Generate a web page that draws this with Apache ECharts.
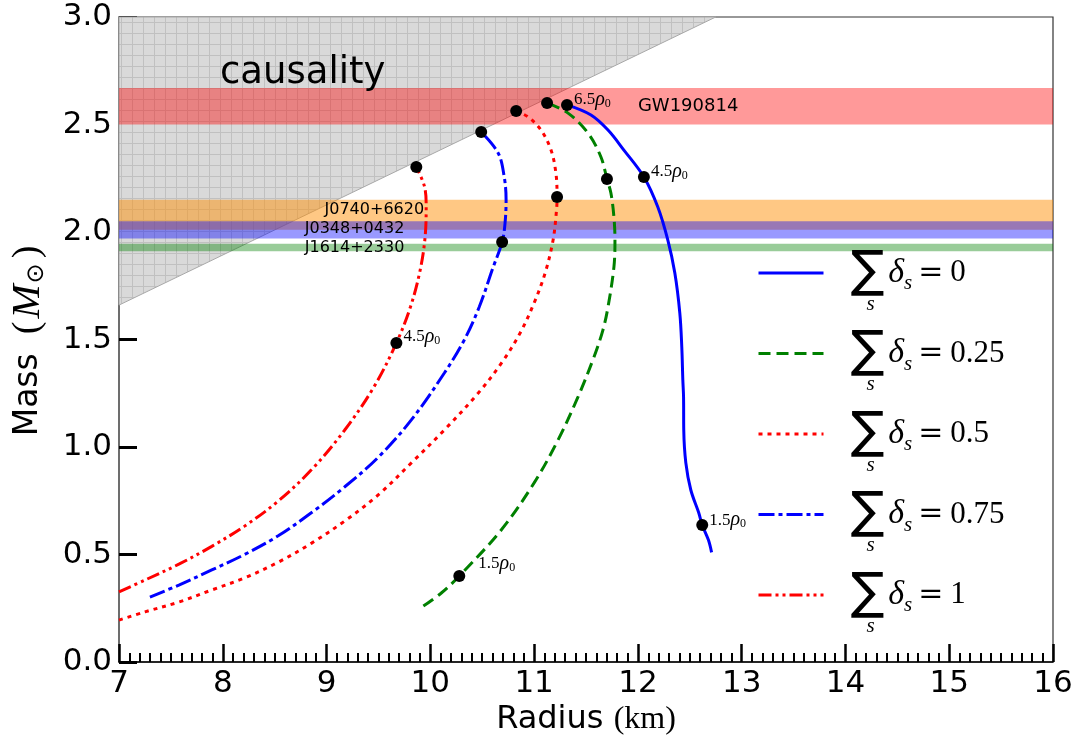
<!DOCTYPE html>
<html>
<head>
<meta charset="utf-8">
<script src="https://cdn.jsdelivr.net/npm/echarts@6/dist/echarts.min.js"></script>
<style>
  html, body { margin: 0; padding: 0; background: #fff; }
  #chart { width: 1081px; height: 749px; }
</style>
</head>
<body>
<div id="chart"></div>
<script>
// Mass–radius sequences for several strangeness fractions (sum of delta_s)
const sumDeltaValues = ['0', '0.25', '0.5', '0.75', '1'];

// [radius km, mass Msun]
const curveSum0 = [
  [12.71, 0.51], [12.68, 0.567], [12.62, 0.637], [12.587, 0.693], [12.51, 0.80],
  [12.462, 0.926], [12.442, 1.079], [12.44, 1.233], [12.433, 1.312], [12.423, 1.465],
  [12.404, 1.623], [12.356, 1.809], [12.288, 1.963], [12.192, 2.116], [12.058, 2.256],
  [11.865, 2.381], [11.712, 2.474], [11.548, 2.544], [11.317, 2.591]
];
const curveSum025 = [
  [9.933, 0.26], [10.106, 0.321], [10.279, 0.40], [10.683, 0.614], [11.0, 0.833],
  [11.231, 1.033], [11.423, 1.233], [11.577, 1.419], [11.663, 1.544], [11.712, 1.651],
  [11.769, 1.837], [11.779, 1.963], [11.769, 2.07], [11.74, 2.181], [11.702, 2.247],
  [11.644, 2.349], [11.519, 2.46], [11.327, 2.553], [11.125, 2.6]
];
const curveSum05 = [
  [7.0, 0.195], [7.25, 0.233], [7.577, 0.279], [7.894, 0.335], [8.21, 0.391],
  [8.538, 0.465], [8.856, 0.553], [9.173, 0.655], [9.5, 0.778], [9.817, 0.926],
  [10.135, 1.079], [10.462, 1.251], [10.692, 1.395], [10.865, 1.530], [11.0, 1.670],
  [11.106, 1.809], [11.183, 1.963], [11.216, 2.102], [11.221, 2.163], [11.21, 2.274],
  [11.163, 2.381], [11.067, 2.474], [10.942, 2.535], [10.827, 2.563]
];
const curveSum075 = [
  [7.298, 0.302], [7.577, 0.358], [7.894, 0.428], [8.21, 0.500], [8.538, 0.588],
  [8.856, 0.695], [9.173, 0.814], [9.5, 0.953], [9.817, 1.126], [10.135, 1.344],
  [10.327, 1.498], [10.471, 1.651], [10.606, 1.837], [10.692, 1.953],
  [10.72, 2.042], [10.73, 2.149], [10.712, 2.256], [10.654, 2.367], [10.49, 2.465]
];
const curveSum1 = [
  [7.0, 0.326], [7.25, 0.381], [7.577, 0.455], [7.894, 0.538], [8.21, 0.632],
  [8.538, 0.75], [8.856, 0.895], [9.175, 1.079], [9.456, 1.279], [9.673, 1.484],
  [9.808, 1.651], [9.896, 1.809], [9.947, 1.963], [9.96, 2.116], [9.945, 2.209],
  [9.865, 2.302]
];

// Marked central densities on each sequence (label = multiple of rho_0, '' = unlabelled)
const densityDots0 = [[12.62, 0.637], [12.058, 2.256], [11.317, 2.591]];
const densityLabels0 = ['1.5', '4.5', '6.5'];
const densityDots025 = [[10.279, 0.40], [11.702, 2.247], [11.125, 2.6]];
const densityLabels025 = ['1.5', '', ''];
const densityDots05 = [[11.221, 2.163], [10.827, 2.563]];
const densityLabels05 = ['', ''];
const densityDots075 = [[10.692, 1.953], [10.49, 2.465]];
const densityLabels075 = ['', ''];
const densityDots1 = [[9.673, 1.484], [9.865, 2.302]];
const densityLabels1 = ['4.5', ''];

// Observational mass constraints
const bandNames = ['GW190814', 'J0740+6620', 'J0348+0432', 'J1614+2330'];
const bandLow = [2.50, 2.01, 1.97, 1.911];
const bandHigh = [2.67, 2.15, 2.05, 1.945];

// Region excluded by causality
const causalityRegion = [[7, 1.66], [12.75, 3.0], [7, 3.0]];

const radiusRange = [7, 16];
const massRange = [0, 3];

// ---------------------------------------------------------------------------
const chart = echarts.init(document.getElementById('chart'));

const hatch = document.createElement('canvas');
hatch.width = 11; hatch.height = 11;
(function () {
  const c = hatch.getContext('2d');
  c.fillStyle = '#d9d9d9';
  c.fillRect(0, 0, 11, 11);
  c.fillStyle = '#c0c0c0';
  c.fillRect(0, 0, 11, 1);
  c.fillRect(0, 0, 1, 11);
})();

const serif = "'Liberation Serif','DejaVu Serif',serif";
const dvSerif = "'DejaVu Serif',serif";
const sans = "'DejaVu Sans',sans-serif";

const curves = [curveSum0, curveSum025, curveSum05, curveSum075, curveSum1];
const dots = [densityDots0, densityDots025, densityDots05, densityDots075, densityDots1];
const dotLabels = [densityLabels0, densityLabels025, densityLabels05, densityLabels075, densityLabels1];
const colors = ['#0000ff', '#008000', '#ff0000', '#0000ff', '#ff0000'];
const dashes = ['solid', [12, 6], [4, 5], [16, 4, 4, 4], [13, 4, 3, 4, 3, 4]];
const names = sumDeltaValues.map(v => 'sum_delta_s=' + v);
const dotLabelOffsets = [[0, -5], [12, -12], [0, -5], [0, -5], [0, -6]];

const rhoRich = {
  n: { fontFamily: serif, fontSize: 17, color: '#000' },
  r: { fontFamily: serif, fontStyle: 'italic', fontSize: 20, color: '#000' },
  z: { fontFamily: serif, fontSize: 12, color: '#000', verticalAlign: 'bottom', lineHeight: 12 }
};

const bandFill = ['rgba(255,0,0,0.4)', 'rgba(255,145,10,0.5)', 'rgba(0,0,255,0.4)', 'rgba(0,128,0,0.4)'];
const bandText = [
  { r: 12.0, m: 2.585, align: 'left', size: 18 },
  { r: 9.94, m: 2.103, align: 'right', size: 16 },
  { r: 8.79, m: 2.014, align: 'left', size: 16 },
  { r: 8.79, m: 1.926, align: 'left', size: 16 }
];

const series = [];

series.push({
  type: 'custom', coordinateSystem: 'cartesian2d', z: 1, silent: true,
  data: [causalityRegion[0]],
  renderItem: (params, api) => ({
    type: 'polygon',
    shape: { points: causalityRegion.map(p => api.coord(p)) },
    style: { fill: { image: hatch, repeat: 'repeat' }, stroke: '#a8a8a8', lineWidth: 1 }
  })
});

series.push({
  type: 'custom', coordinateSystem: 'cartesian2d', z: 2, silent: true,
  data: bandLow.map((lo, i) => [radiusRange[0], lo, radiusRange[1], bandHigh[i]]),
  renderItem: (params, api) => {
    const i = params.dataIndex;
    const a = api.coord([api.value(0), api.value(3)]);
    const b = api.coord([api.value(2), api.value(1)]);
    const t = bandText[i];
    const tp = api.coord([t.r, t.m]);
    return {
      type: 'group',
      children: [
        { type: 'rect', shape: { x: a[0], y: a[1], width: b[0] - a[0], height: b[1] - a[1] },
          style: { fill: bandFill[i] } },
        { type: 'text', z2: 10,
          style: { text: bandNames[i], x: tp[0], y: tp[1], align: t.align, verticalAlign: 'middle',
                   fontFamily: sans, fontSize: t.size, fill: '#000' } }
      ]
    };
  }
});

curves.forEach((c, i) => {
  series.push({
    name: names[i], type: 'line', data: c, z: 3,
    showSymbol: false, symbol: 'none', smooth: 0.35,
    lineStyle: { color: colors[i], width: 3, type: dashes[i] },
    itemStyle: { color: colors[i] }
  });
});

dots.forEach((d, i) => {
  series.push({
    type: 'scatter', z: 4, symbolSize: 12, silent: true,
    itemStyle: { color: '#000', opacity: 1 },
    data: d.map((p, k) => ({
      value: p,
      label: dotLabels[i][k] ? {
        show: true, position: 'right', distance: 1, offset: dotLabelOffsets[i],
        formatter: '{n|' + dotLabels[i][k] + '}{r|ρ}{z|0}', rich: rhoRich
      } : { show: false }
    }))
  });
});

const legendRich = {
  sum: { fontFamily: sans, fontSize: 50, lineHeight: 44, color: '#000', padding: [0, 4, 0, 0] },
  d: { fontFamily: serif, fontStyle: 'italic', fontSize: 34, lineHeight: 44, color: '#000' },
  sb: { fontFamily: serif, fontStyle: 'italic', fontSize: 21, lineHeight: 20, color: '#000',
        verticalAlign: 'bottom', padding: [0, 0, 1, 0] },
  eq: { fontFamily: dvSerif, fontSize: 30, lineHeight: 44, color: '#000', padding: [0, 7, 0, 6] },
  v: { fontFamily: serif, fontSize: 31, lineHeight: 44, color: '#000' },
  u: { fontFamily: serif, fontStyle: 'italic', fontSize: 21, lineHeight: 18, color: '#000',
       padding: [0, 0, 0, 16] }
};

const option = {
  animation: false,
  backgroundColor: '#fff',
  grid: { left: 117, right: 28, top: 17, bottom: 87, show: true, borderColor: '#333', borderWidth: 1.2,
          backgroundColor: 'transparent' },
  xAxis: {
    type: 'value', min: radiusRange[0], max: radiusRange[1], interval: 1,
    name: '{a|Radius }{b|(km)}', nameLocation: 'middle', nameGap: 40,
    nameTextStyle: { rich: {
      a: { fontFamily: sans, fontSize: 32, color: '#000' },
      b: { fontFamily: serif, fontSize: 32, color: '#000' }
    } },
    axisLine: { show: true, onZero: false, lineStyle: { color: '#000', width: 1.5 } },
    axisTick: { show: true, inside: true, length: 18, lineStyle: { color: '#000', width: 2.5 } },
    minorTick: { show: true, splitNumber: 10, length: 9, lineStyle: { color: '#000', width: 2 } },
    axisLabel: { fontFamily: sans, fontSize: 31, color: '#000', margin: 6 },
    splitLine: { show: false }
  },
  yAxis: {
    type: 'value', min: massRange[0], max: massRange[1], interval: 0.5,
    name: '{a|Mass}{p|(}{m|M}{o|⊙}{p|)}', nameLocation: 'middle', nameGap: 70, nameRotate: 90,
    nameTextStyle: { rich: {
      a: { fontFamily: sans, fontSize: 33, color: '#000', padding: [0, 16, 0, 0] },
      p: { fontFamily: serif, fontSize: 38, color: '#000', padding: [0, 3, 0, 3] },
      m: { fontFamily: serif, fontStyle: 'italic', fontSize: 41, color: '#000' },
      o: { fontFamily: sans, fontSize: 24, color: '#000', verticalAlign: 'bottom', lineHeight: 20,
           padding: [0, 2, 0, 1] }
    } },
    axisLine: { show: true, onZero: false, lineStyle: { color: '#666', width: 1.5 } },
    axisTick: { show: true, inside: true, length: 18, lineStyle: { color: '#000', width: 3 } },
    axisLabel: { fontFamily: sans, fontSize: 31, color: '#000', margin: 7,
                 formatter: v => v.toFixed(1) },
    splitLine: { show: false }
  },
  legend: {
    orient: 'vertical', left: 757, top: 248, padding: 0, itemGap: 14,
    itemWidth: 65, itemHeight: 14, selectedMode: false,
    data: names,
    lineStyle: { width: 3 },
    itemStyle: { opacity: 0 },
    formatter: name => {
      const v = sumDeltaValues[names.indexOf(name)];
      return '{sum|∑}{d|δ}{sb|s}{eq|=}{v|' + v + '}\n{u|s}';
    },
    textStyle: { padding: [18, 0, 0, 22], rich: legendRich }
  },
  graphic: [
    { type: 'text', left: 220, top: 55, z: 5, silent: true,
      style: { text: 'causality', fontFamily: sans, fontSize: 37, fill: '#000' } }
  ],
  series
};

chart.setOption(option);
</script>
</body>
</html>
